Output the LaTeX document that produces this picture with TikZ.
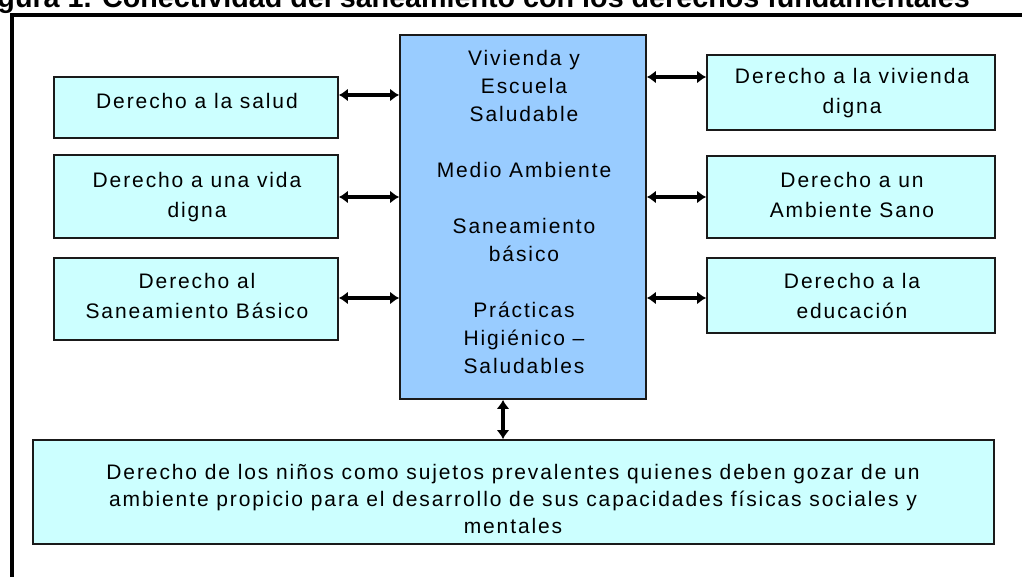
\documentclass[tikz,border=0pt]{standalone}
\usepackage{fontspec}
\setmainfont{Liberation Sans}
\newfontfamily\boxfont[LetterSpace=9]{Liberation Sans}
\usetikzlibrary{arrows.meta}
\definecolor{centerblue}{HTML}{99CCFF}
\definecolor{sidecyan}{HTML}{CCFFFF}
\definecolor{edgegray}{HTML}{1A1A1A}
\begin{document}
\begin{tikzpicture}[x=1pt,y=-1pt,
  sidebox/.style={draw=edgegray, line width=1.8pt, fill=sidecyan, inner sep=0pt},
  centerbox/.style={draw=edgegray, line width=1.8pt, fill=centerblue, inner sep=0pt},
  boxtext/.style={anchor=north, inner sep=0pt, align=center, font=\boxfont\fontsize{21}{30}\selectfont},
  centertext/.style={anchor=north, inner sep=0pt, align=center, font=\boxfont\fontsize{21}{28}\selectfont},
  bottomtext/.style={anchor=north, inner sep=0pt, align=center, font=\boxfont\fontsize{21}{27}\selectfont},
  biarrow/.style={line width=3.6pt, {Latex[length=9pt,width=13pt]}-{Latex[length=9pt,width=13pt]}},
  framerule/.style={line width=4pt, line cap=rect}]
\useasboundingbox (0,0) rectangle (1022,577);
\clip (0,0) rectangle (1022,577);
\fill[white] (0,0) rectangle (1022,577);
% title (cut off at the top)
\node[anchor=base east, inner sep=0pt, font=\fontsize{28.7}{34}\selectfont\bfseries] (title) at (970,8)
  {Figura 1. Conectividad del saneamiento con los derechos fundamentales};
% frame
\draw[framerule] (11.7,600) -- (11.7,14.7) -- (1040,14.7);
% boxes
\node[centerbox, minimum width=246, minimum height=364] (c) at (523,217) {};
\node[sidebox, minimum width=284, minimum height=61] (l1) at (196,107.5) {};
\node[sidebox, minimum width=284, minimum height=83] (l2) at (196,196.5) {};
\node[sidebox, minimum width=284, minimum height=82] (l3) at (196,299) {};
\node[sidebox, minimum width=288, minimum height=75] (r1) at (851,92.5) {};
\node[sidebox, minimum width=288, minimum height=82] (r2) at (851,197) {};
\node[sidebox, minimum width=288, minimum height=75] (r3) at (851,295.5) {};
\node[sidebox, minimum width=961, minimum height=104] (bot) at (513.5,492) {};
% texts
\node[centertext] (tc) at (524,50) {Vivienda y\\Escuela\\Saludable\\[28pt]Medio Ambiente\\[28pt]Saneamiento\\básico\\[28pt]Prácticas\\Higiénico –\\Saludables};
\node[boxtext] (tl1) at (197,93) {Derecho a la salud};
\node[boxtext] (tl2) at (197,172) {Derecho a una vida\\digna};
\node[boxtext] (tl3) at (197,273) {Derecho al\\Saneamiento Básico};
\node[boxtext] (tr1) at (852,68) {Derecho a la vivienda\\digna};
\node[boxtext] (tr2) at (852,172) {Derecho a un\\Ambiente Sano};
\node[boxtext] (tr3) at (852,273) {Derecho a la\\educación};
\node[bottomtext] (tb) at (513,464) {Derecho de los niños como sujetos prevalentes quienes deben gozar de un\\ambiente propicio para el desarrollo de sus capacidades físicas sociales y\\mentales};
% connectors
\draw[biarrow] (l1.east |- 0,95) -- (c.west |- 0,95);
\draw[biarrow] (l2.east |- 0,197) -- (c.west |- 0,197);
\draw[biarrow] (l3.east |- 0,298) -- (c.west |- 0,298);
\draw[biarrow] (c.east |- 0,77) -- (r1.west |- 0,77);
\draw[biarrow] (c.east |- 0,197) -- (r2.west |- 0,197);
\draw[biarrow] (c.east |- 0,298) -- (r3.west |- 0,298);
\coordinate (vx) at (503,0);
\draw[biarrow] (c.south -| vx) -- (bot.north -| vx);
\end{tikzpicture}
\end{document}
